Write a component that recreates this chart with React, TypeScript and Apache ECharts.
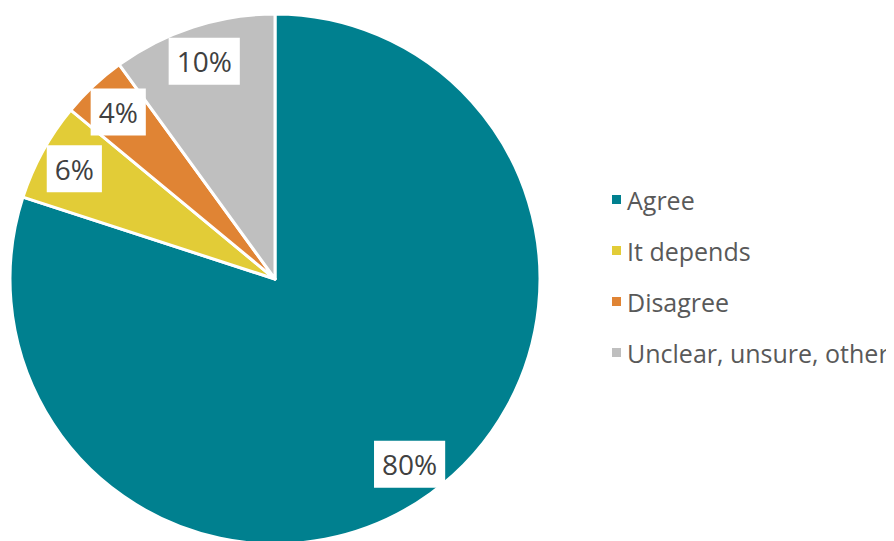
import React, { useEffect, useRef } from "react";
import * as echarts from "echarts";

const categories = ["Agree", "It depends", "Disagree", "Unclear, unsure, other"];
const values = [80, 6, 4, 10];
const colors = ["#00808F", "#E2CC37", "#E08434", "#BFBFBF"];

export default function App() {
  const ref = useRef<HTMLDivElement>(null);
  useEffect(() => {
    const chart = echarts.init(ref.current!, undefined, { renderer: "svg" });
    const data = categories.map((name, i) => ({
      name,
      value: values[i],
      itemStyle: { color: colors[i] },
    }));
    chart.setOption({
      animation: false,
      backgroundColor: "#ffffff",
      legend: {
        orient: "vertical",
        left: 597,
        top: 174,
        icon: "rect",
        itemWidth: 11,
        itemHeight: 11,
        itemGap: 26,
        data: categories,
        textStyle: {
          fontFamily: "Open Sans",
          fontSize: 25,
          lineHeight: 25,
          color: "#595959",
        },
      },
      series: [
        {
          type: "pie",
          center: [267, 271],
          radius: [0, 265],
          startAngle: 90,
          clockwise: true,
          label: { show: false },
          labelLine: { show: false },
          itemStyle: { borderColor: "#ffffff", borderWidth: 3 },
          emphasis: { disabled: true },
          data,
        },
        {
          type: "pie",
          center: [267, 271],
          radius: [187, 265],
          startAngle: 90,
          clockwise: true,
          silent: true,
          legendHoverLink: false,
          itemStyle: { color: "rgba(0,0,0,0)", borderWidth: 0 },
          labelLine: { show: false },
          label: {
            show: true,
            position: "inside",
            formatter: (p: any) => p.value + "%",
            fontFamily: "Open Sans",
            fontSize: 28,
            lineHeight: 31,
            color: "#404040",
            backgroundColor: "#ffffff",
            padding: [8, 8, 8, 8],
          },
          emphasis: { disabled: true },
          data: categories.map((name, i) => ({ name, value: values[i] })),
        },
      ],
    });
    return () => chart.dispose();
  }, []);
  return <div ref={ref} style={{ width: 886, height: 533 }} />;
}
